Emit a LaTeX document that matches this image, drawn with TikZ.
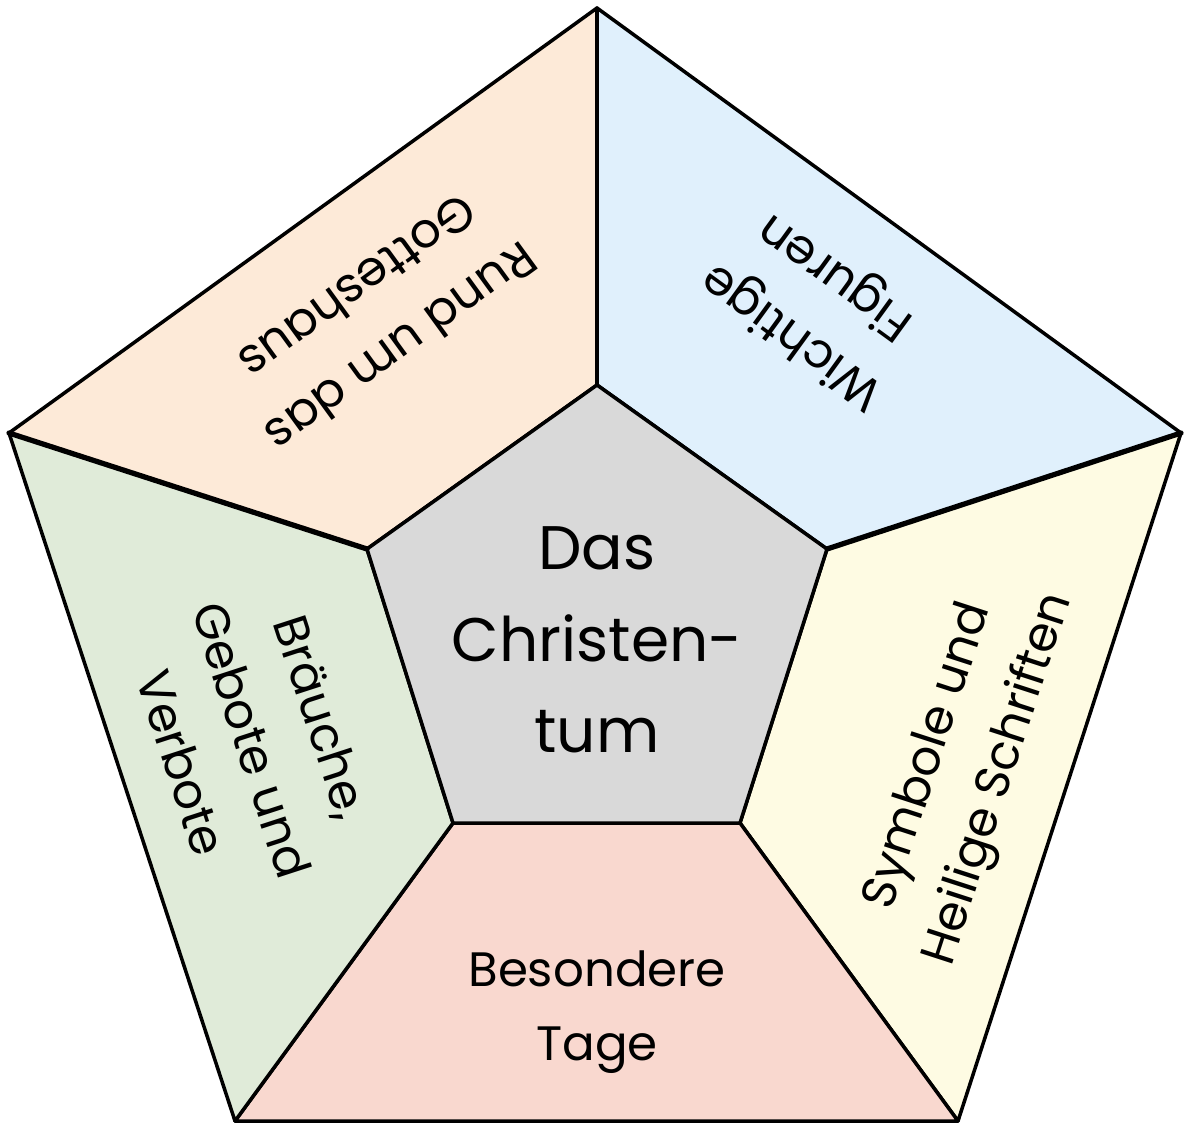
\documentclass[tikz,border=0pt]{standalone}
\usepackage{fontspec}
\setmainfont{Poppins}
\usepackage{xcolor}
\usepackage{tikz}
\usetikzlibrary{calc}

\definecolor{peach}{HTML}{FDEAD8}
\definecolor{skyblue}{HTML}{E0F0FC}
\definecolor{paleyellow}{HTML}{FEFBE3}
\definecolor{salmon}{HTML}{F9D8CF}
\definecolor{palegreen}{HTML}{E0EBD9}
\definecolor{centergray}{HTML}{D9D9D9}

\begin{document}
\begin{tikzpicture}[
  x=0.02cm, y=-0.02cm,
  region/.style={draw, line width=2pt, line join=round},
  divider/.style={line width=3pt, line cap=round},
  label/.style={align=center, font=\fontsize{27.5}{42}\selectfont},
  title/.style={align=center, font=\fontsize{35}{52}\selectfont}
]
  \useasboundingbox (0,0) rectangle (1184,1129);

  % outer pentagon
  \coordinate (ot) at (597,8);
  \coordinate (or) at (1181,433);
  \coordinate (obr) at (958,1121);
  \coordinate (obl) at (235,1121);
  \coordinate (ol) at (9,433);
  % inner pentagon
  \coordinate (it) at (597,385);
  \coordinate (ir) at (827,549);
  \coordinate (ibr) at (740,823);
  \coordinate (ibl) at (453,823);
  \coordinate (il) at (367,549);

  % the five fields and the centre
  \draw[region, fill=peach] (ol) -- (ot) -- (it) -- (il) -- cycle;
  \draw[region, fill=skyblue] (ot) -- (or) -- (ir) -- (it) -- cycle;
  \draw[region, fill=paleyellow] (or) -- (obr) -- (ibr) -- (ir) -- cycle;
  \draw[region, fill=salmon] (obr) -- (obl) -- (ibl) -- (ibr) -- cycle;
  \draw[region, fill=palegreen] (obl) -- (ol) -- (il) -- (ibl) -- cycle;
  \draw[region, fill=centergray] (it) -- (ir) -- (ibr) -- (ibl) -- (il) -- cycle;
  \draw[divider] (ol) -- (il);
  \draw[divider] (or) -- (ir);

  % texts
  \node[title] (center) at (597,640) {Das\\Christen-\\tum};
  \node[label, rotate=216] (church) at (380,318) {Rund um das\\Gotteshaus};
  \node[label, rotate=144] (figures) at (815,305) {Wichtige\\Figuren};
  \node[label, rotate=72] (symbols) at (965,768) {Symbole und\\Heilige Schriften};
  \node[label] (days) at (597,1012) {Besondere\\Tage};
  \node[label, rotate=-72] (customs) at (252,740) {Bräuche,\\Gebote und\\Verbote};
\end{tikzpicture}
\end{document}
